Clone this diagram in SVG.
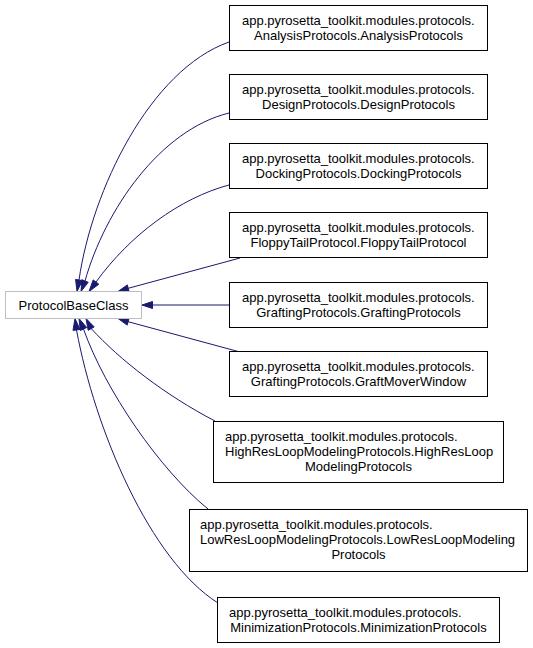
<svg xmlns="http://www.w3.org/2000/svg" width="533" height="648" viewBox="0 0 533 648">
<style>
text{font-family:"Liberation Sans",Arial,sans-serif;font-size:13px;fill:#000}
.c{text-anchor:middle}
.box{fill:#fff;stroke:#000;stroke-width:1}
.base{fill:#fff;stroke:#bfbfbf;stroke-width:1}
.e{fill:none;stroke:#191970;stroke-width:1}
.ah{fill:#191970;stroke:#191970;stroke-width:1}
</style>
<rect width="533" height="648" fill="#fff"/>
<g id="edges">
<path class="e" d="M229,42 C150,70 92,190 79,280"/>
<polygon class="ah" points="82.4,280.6 77,291.5 75.6,279.4"/>
<path class="e" d="M229,113 C160,130 105,210 85,281"/>
<polygon class="ah" points="88.2,282.3 81,291.5 81.8,279.7"/>
<path class="e" d="M229,185 C180,198 130,235 96,282"/>
<polygon class="ah" points="98.8,284.2 89,291.5 93.2,279.9"/>
<path class="e" d="M240,258 L128.2,288.3"/>
<polygon class="ah" points="129.1,291.7 118,291.5 127.3,284.9"/>
<path class="e" d="M229,305 L152.5,305"/>
<polygon class="ah" points="152.5,301.5 142,305 152.5,308.5"/>
<path class="e" d="M240,352 L128.1,321.7"/>
<polygon class="ah" points="129,318.3 118,318.5 127.2,325.1"/>
<path class="e" d="M215,421 C165,395 120,360 91.2,328.6"/>
<polygon class="ah" points="94.2,326.9 86,318.5 88.2,330.3"/>
<path class="e" d="M208,509 C160,470 105,390 83.5,329"/>
<polygon class="ah" points="86.7,327.5 79,318.5 80.3,330.5"/>
<path class="e" d="M218,603 C150,560 95,430 76.5,329.9"/>
<polygon class="ah" points="80,329.4 75,318.5 73,330.4"/>
</g>
<g id="ProtocolBaseClass">
<rect class="base" x="5.5" y="291.5" width="136" height="27"/>
<text class="c" x="73.5" y="309.5">ProtocolBaseClass</text>
</g>
<g id="AnalysisProtocols">
<rect class="box" x="229.5" y="5.5" width="258" height="45"/>
<text x="242" y="24.5">app.pyrosetta_toolkit.modules.protocols.</text>
<text class="c" x="358.5" y="39.5">AnalysisProtocols.AnalysisProtocols</text>
</g>
<g id="DesignProtocols">
<rect class="box" x="229.5" y="74.5" width="258" height="45"/>
<text x="242" y="93.5">app.pyrosetta_toolkit.modules.protocols.</text>
<text class="c" x="358.5" y="108.5">DesignProtocols.DesignProtocols</text>
</g>
<g id="DockingProtocols">
<rect class="box" x="229.5" y="143.5" width="258" height="45"/>
<text x="242" y="162.5">app.pyrosetta_toolkit.modules.protocols.</text>
<text class="c" x="358.5" y="177.5">DockingProtocols.DockingProtocols</text>
</g>
<g id="FloppyTailProtocol">
<rect class="box" x="229.5" y="212.5" width="258" height="45"/>
<text x="242" y="231.5">app.pyrosetta_toolkit.modules.protocols.</text>
<text class="c" x="358.5" y="246.5">FloppyTailProtocol.FloppyTailProtocol</text>
</g>
<g id="GraftingProtocols">
<rect class="box" x="229.5" y="282.5" width="258" height="45"/>
<text x="242" y="301.5">app.pyrosetta_toolkit.modules.protocols.</text>
<text class="c" x="358.5" y="316.5">GraftingProtocols.GraftingProtocols</text>
</g>
<g id="GraftMoverWindow">
<rect class="box" x="229.5" y="351.5" width="258" height="45"/>
<text x="242" y="370.5">app.pyrosetta_toolkit.modules.protocols.</text>
<text class="c" x="358.5" y="385.5">GraftingProtocols.GraftMoverWindow</text>
</g>
<g id="HighResLoopModelingProtocols">
<rect class="box" x="213.5" y="421.5" width="290" height="61"/>
<text x="225" y="440.5">app.pyrosetta_toolkit.modules.protocols.</text>
<text x="225" y="455.5">HighResLoopModelingProtocols.HighResLoop</text>
<text class="c" x="358.5" y="470.5">ModelingProtocols</text>
</g>
<g id="LowResLoopModelingProtocols">
<rect class="box" x="189.5" y="509.5" width="338" height="62"/>
<text x="200" y="528.5">app.pyrosetta_toolkit.modules.protocols.</text>
<text x="200" y="543.5">LowResLoopModelingProtocols.LowResLoopModeling</text>
<text class="c" x="358.5" y="558.5">Protocols</text>
</g>
<g id="MinimizationProtocols">
<rect class="box" x="217.5" y="597.5" width="282" height="45"/>
<text x="229" y="616.5">app.pyrosetta_toolkit.modules.protocols.</text>
<text class="c" x="358.5" y="631.5">MinimizationProtocols.MinimizationProtocols</text>
</g>
</svg>
